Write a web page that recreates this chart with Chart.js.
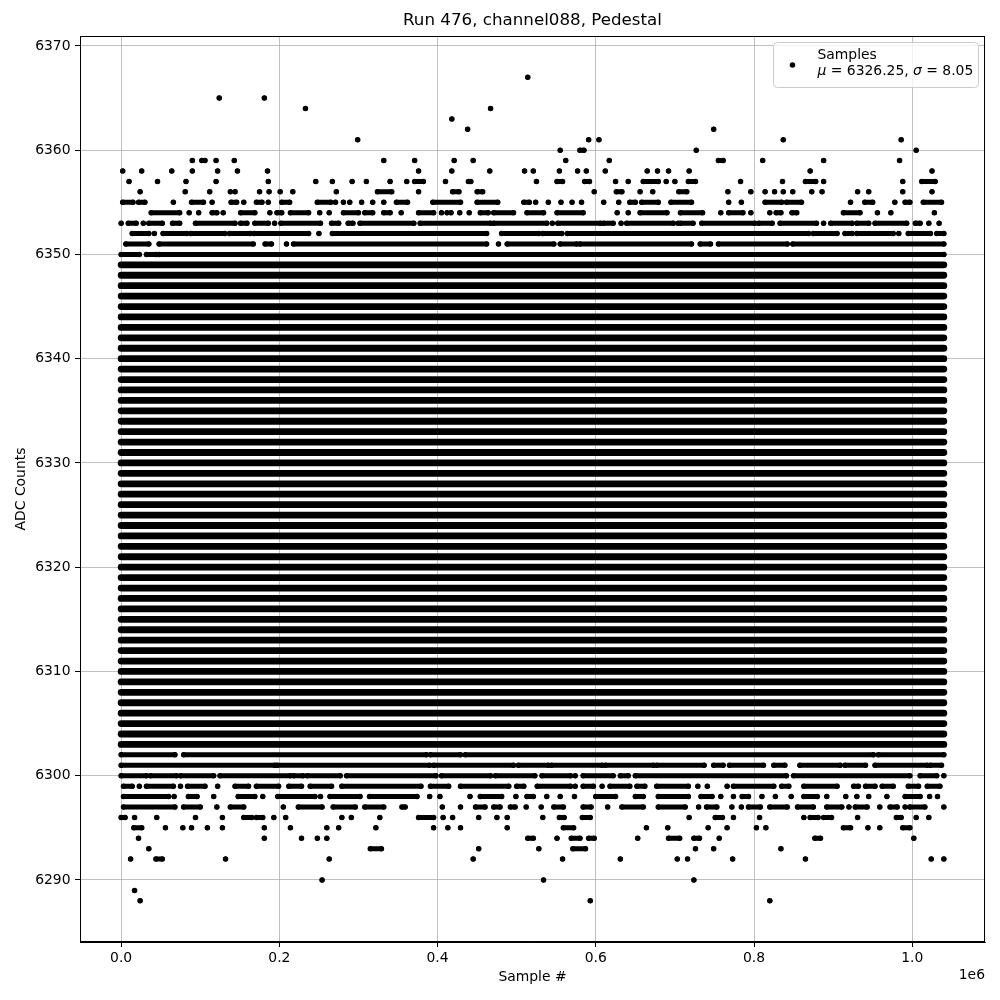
<!DOCTYPE html>
<html>
<head>
<meta charset="utf-8">
<script src="https://cdn.jsdelivr.net/npm/chart.js@4"></script>
<style>
  body { margin: 0; background: #fff; }
  canvas { display: block; }
</style>
</head>
<body>
<canvas id="pedestalChart" width="1000" height="1000"></canvas>
<script>
// sample numbers are in thousands (axis shows them as x 1e6)
const xTickValues = [0, 200, 400, 600, 800, 1000];
const yTickValues = [6290, 6300, 6310, 6320, 6330, 6340, 6350, 6360, 6370];

// rows that are filled end to end
const fullLevels = [6303, 6304, 6305, 6306, 6307, 6308, 6309, 6310, 6311, 6312, 6313, 6314,
  6315, 6316, 6317, 6318, 6319, 6320, 6321, 6322, 6323, 6324, 6325, 6326, 6327, 6328, 6329,
  6330, 6331, 6332, 6333, 6334, 6335, 6336, 6337, 6338, 6339, 6340, 6341, 6342, 6343, 6344,
  6345, 6346, 6347, 6348, 6349];
const fullSpan = [0, 1040];

// upper tail: a number is a lone sample, a pair is a run of samples
const upperLevels = [6367, 6365, 6364, 6363, 6362, 6361, 6360, 6359, 6358, 6357, 6356, 6355, 6354, 6353, 6352, 6351, 6350];
const upperSamples = [
  [514],
  [124, 181],
  [233, 467],
  [418],
  [438, 749],
  [299, 591, 604, 837, 986],
  [555, [580, 585], 727, 1005],
  [90, 102, 106, 120, 143, 332, 371, 421, 445, 562, 617, [755, 761], 811, 888, 984],
  [2, 26, 64, 90, 122, 147, 185, 376, 418, 466, 510, 521, 554, 577, 588, 612, 665, 678, 692, 718, 871, 1025],
  [10, 46, 82, 120, 186, 246, 267, 292, 310, 340, 361, [371, 382], 410, [439, 442], 525, [551, 558],
    [586, 592], 625, 641, [660, 679], 689, 700, [717, 726], 783, 836, [865, 878], 888, 988, [1012, 1029]],
  [24, 81, 112, 138, 144, 175, 187, 201, 217, 272, [324, 342], 376, [419, 427], [450, 457], 598,
    [626, 633], 656, 672, [705, 715], 767, 796, 814, 826, 837, 849, 873, 886, 931, 945, 988, 1025],
  [[2, 15], [22, 30], 66, [89, 104], 115, [139, 146], 155, [171, 178], 186, [203, 213], [248, 265],
    271, 281, 289, 304, 318, 332, [348, 362], [394, 429], [450, 476], [509, 516], 524, 540, 556, 570,
    582, 610, 629, [643, 650], [658, 679], [695, 721], 768, 784, [814, 835], [841, 860], 922,
    [940, 950], 978, [991, 997], [1014, 1037]],
  [[38, 74], 86, 98, [115, 121], 129, [151, 169], 188, [197, 203], [214, 237], 251, 263, [281, 300],
    [308, 318], [332, 340], 354, [376, 395], 405, 412, 417, 428, 440, [454, 464], [471, 496],
    [513, 534], [551, 584], 627, 641, [656, 690], [707, 735], 758, [768, 786], 796, 820, [828, 834],
    [848, 854], [913, 934], 956, 973, 1028],
  [0, [9, 19], 28, [35, 52], [65, 74], [94, 144], [151, 159], [169, 186], 194, [202, 252], [266, 275],
    [287, 293], [302, 370], [378, 467], [471, 538], 545, [552, 606], [610, 622], 632, [639, 698], 704,
    [707, 723], [734, 801], [806, 823], [833, 879], 888, [897, 924], [930, 945], [953, 993],
    [1004, 1010], 1021, 1034],
  [[14, 35], 42, [53, 83], [88, 131], [137, 163], [168, 237], 250, [267, 462], [481, 528], [533, 557],
    [564, 869], [875, 905], [915, 924], [930, 976], 983, [995, 1023], [1031, 1040]],
  [[6, 35], [48, 167], [182, 190], 209, [218, 462], 477, [488, 547], [555, 576], [580, 721], [732, 745],
    [755, 842], [849, 1040]],
  [[0, 23], [32, 44], [48, 1040]]
];

// lower tail, same notation
const lowerLevels = [6302, 6301, 6300, 6299, 6298, 6297, 6296, 6295, 6294, 6293, 6292, 6290, 6289, 6288];
const lowerSamples = [
  [[0, 68], [79, 386], [391, 429], [435, 951], [957, 1040]],
  [[0, 194], [197, 390], [395, 496], [502, 540], [544, 608], [612, 673], [677, 737], [749, 761],
    [769, 812], [825, 839], [858, 909], [915, 941], [953, 1019], [1023, 1037]],
  [[0, 32], [37, 70], [75, 117], [125, 214], [218, 230], [235, 277], [285, 398], [405, 467], [473, 523],
    [532, 568], 574, [584, 622], [631, 641], [650, 841], [850, 997], [1010, 1031], 1040],
  [[3, 14], 23, [32, 66], 75, [84, 106], 122, [144, 161], [171, 199], [212, 228], [239, 266], [279, 379],
    [391, 414], [429, 490], [500, 509], [526, 568], 574, [584, 597], 608, [618, 643], [652, 662],
    [677, 717], 729, 741, 766, [774, 825], [835, 844], [863, 905], [926, 932], [941, 953], [962, 976],
    [995, 1008], [1019, 1035]],
  [[3, 60], 67, [85, 96], 117, [148, 169], 179, [198, 245], 252, [264, 302], [314, 374], 390, 403, 441,
    [454, 481], 499, [513, 521], 538, 555, 573, [600, 625], [650, 660], [679, 717], [733, 747], 758,
    774, [785, 793], 810, 827, 847, [863, 880], 892, 916, 930, 945, 968, [991, 1010], 1022, 1032],
  [[3, 68], [79, 100], 121, [138, 155], 205, [224, 254], [268, 296], [308, 332], [355, 359], 406, 429,
    [448, 460], [471, 479], [492, 498], 512, 531, [547, 559], [584, 594], 615, [633, 660], [679, 713],
    730, [740, 753], 772, 784, [793, 808], [820, 842], [855, 875], [892, 911], 920, [928, 943], 959,
    [972, 981], 991, [997, 1016], 1040],
  [[0, 5], 17, 45, 94, 128, [155, 165], [171, 179], 193, 208, 279, 291, 327, [376, 395], 407, 419, 452,
    475, 488, 533, [554, 560], [583, 593], 718, [751, 760], 774, 807, 863, [871, 881], [888, 898], 931,
    [980, 986], 1005, 1021],
  [[16, 26], 56, 78, 89, 109, 128, 181, 214, 260, 275, 322, 395, 413, 429, 488, [559, 572], 664, 691,
    742, 766, 803, 815, [913, 922], 944, 959, [988, 997]],
  [22, 181, 228, 248, 260, [514, 521], 551, [569, 580], [591, 598], 653, [692, 706], [724, 731], 756,
    [877, 884], 1002],
  [35, [315, 329], 452, 528, [571, 587], 726, 749, 834],
  [12, [44, 52], 132, 263, 445, 558, 631, 703, 716, 773, 865, 1024, 1040],
  [254, 534, 724],
  [17],
  [24, 593, 820]
];

const meanText = "6326.25";
const sigmaText = "8.05";

function rowsToPoints(levels, samples) {
  var pts = [];
  levels.forEach((lvl, i) => {
    samples[i].forEach((s) => {
      if (Array.isArray(s)) {
        pts.push({ x: s[0], y: lvl });
        pts.push({ x: s[1], y: lvl });
        pts.push({ x: s[1], y: null });
      } else {
        pts.push({ x: s, y: lvl });
        pts.push({ x: s, y: null });
      }
    });
  });
  return pts;
}

var fullPoints = rowsToPoints(fullLevels, fullLevels.map(() => [fullSpan]));
var tailPoints = rowsToPoints(upperLevels, upperSamples).concat(rowsToPoints(lowerLevels, lowerSamples));

const FONT = "'DejaVu Sans', 'Liberation Sans', sans-serif";

const decorations = {
  id: "decorations",
  afterDraw(chart) {
    const ctx = chart.ctx;
    const a = chart.chartArea;
    const yScale = chart.scales.y;
    ctx.save();
    // frame
    ctx.strokeStyle = "#000";
    ctx.lineWidth = 1;
    ctx.strokeRect(a.left + 0.5, a.top + 0.5, a.right - a.left - 1, a.bottom - a.top - 1);

    ctx.fillStyle = "#000";
    ctx.font = "13.9px " + FONT;
    ctx.textAlign = "right";
    ctx.textBaseline = "middle";
    yTickValues.forEach((v) => {
      ctx.fillText(String(v), 70.5, yScale.getPixelForValue(v));
    });

    ctx.textAlign = "center";
    ctx.font = "16.7px " + FONT;
    ctx.fillText("Run 476, channel088, Pedestal", (a.left + a.right) / 2, 21);

    ctx.font = "13.9px " + FONT;
    ctx.fillText("Sample #", (a.left + a.right) / 2, 977);
    ctx.textAlign = "right";
    ctx.fillText("1e6", a.right, 975);

    ctx.save();
    ctx.translate(21, (a.top + a.bottom) / 2);
    ctx.rotate(-Math.PI / 2);
    ctx.textAlign = "center";
    ctx.fillText("ADC Counts", 0, 0);
    ctx.restore();

    // legend
    ctx.beginPath();
    ctx.roundRect(773.5, 42.5, 205, 45, 4);
    ctx.fillStyle = "rgba(255,255,255,0.8)";
    ctx.fill();
    ctx.strokeStyle = "#cccccc";
    ctx.stroke();

    ctx.fillStyle = "#000";
    ctx.beginPath();
    ctx.arc(792.5, 65, 2.75, 0, Math.PI * 2);
    ctx.fill();

    ctx.textAlign = "left";
    ctx.textBaseline = "alphabetic";
    ctx.fillText("Samples", 817.5, 58.5);
    var x = 817.5;
    var parts = [
      ["μ", true], [" = " + meanText + ", ", false], ["σ", true], [" = " + sigmaText, false]
    ];
    parts.forEach((p) => {
      ctx.font = (p[1] ? "italic " : "") + "13.9px " + FONT;
      ctx.fillText(p[0], x, 74.5);
      x += ctx.measureText(p[0]).width;
    });
    ctx.restore();
  }
};

const ctx = document.getElementById("pedestalChart").getContext("2d");
const pedestalChart = new Chart(ctx, {
  type: "line",
  data: {
    datasets: [
      {
        label: "full rows",
        data: fullPoints,
        borderColor: "#000",
        borderWidth: 6.8,
        borderCapStyle: "round",
        pointRadius: 0,
        spanGaps: false,
        tension: 0
      },
      {
        label: "Samples",
        data: tailPoints,
        borderColor: "#000",
        borderWidth: 5,
        borderCapStyle: "round",
        pointRadius: 2.75,
        pointBorderWidth: 0,
        pointBackgroundColor: "#000",
        spanGaps: false,
        tension: 0
      }
    ]
  },
  options: {
    responsive: false,
    animation: false,
    devicePixelRatio: 1,
    events: [],
    layout: { padding: { left: 0, top: 36, right: 15, bottom: 0 } },
    plugins: {
      legend: { display: false },
      title: { display: false },
      tooltip: { enabled: false }
    },
    scales: {
      x: {
        type: "linear",
        min: -52,
        max: 1092,
        afterFit: (s) => { s.height = 58; },
        afterBuildTicks: (s) => { s.ticks = xTickValues.map((v) => ({ value: v })); },
        grid: { color: "#b0b0b0", lineWidth: 0.8, tickColor: "#000", tickLength: 5, tickWidth: 1 },
        border: { display: true, color: "#000", width: 1 },
        ticks: {
          color: "#000",
          font: { family: FONT, size: 13.9 },
          padding: 3,
          maxRotation: 0,
          autoSkip: false,
          callback: (v) => (v / 1000).toFixed(1)
        }
      },
      y: {
        type: "linear",
        min: 6284.05,
        max: 6370.95,
        afterFit: (s) => { s.width = 80; },
        afterBuildTicks: (s) => { s.ticks = yTickValues.map((v) => ({ value: v })); },
        grid: { color: "#b0b0b0", lineWidth: 0.8, tickColor: "#000", tickLength: 5, tickWidth: 1 },
        border: { display: true, color: "#000", width: 1 },
        ticks: { display: false }
      }
    }
  },
  plugins: [decorations]
});
</script>
</body>
</html>
